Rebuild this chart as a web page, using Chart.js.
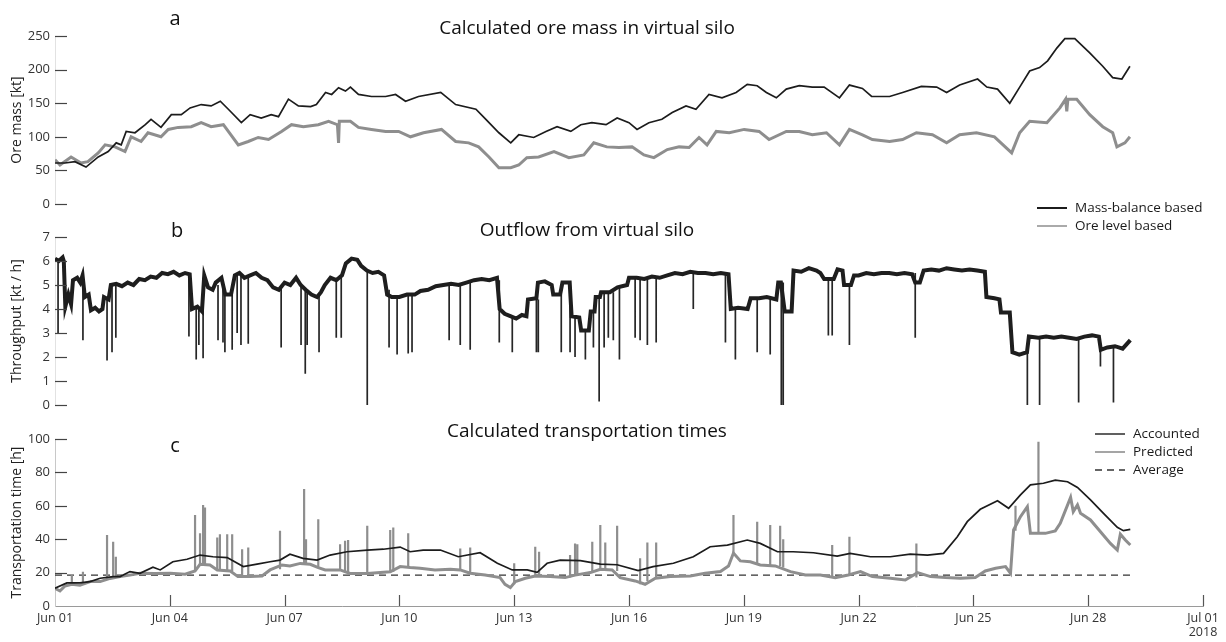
<!DOCTYPE html>
<html>
<head>
<meta charset="utf-8">
<title>Virtual silo</title>
<script src="https://cdn.jsdelivr.net/npm/chart.js@4/dist/chart.umd.min.js"></script>
<style>
    html, body { margin: 0; padding: 0; background: #fff; }
    #wrap { position: relative; width: 1226px; height: 642px; }
    #wrap canvas { position: absolute; left: 0; top: 0; }
</style>
</head>
<body>
<div id="wrap">
    <canvas id="silo-mass" width="1226" height="642"></canvas>
    <canvas id="silo-outflow" width="1226" height="642"></canvas>
    <canvas id="transport-time" width="1226" height="642"></canvas>
</div>
<script>
// time is in days since Jun 01 00:00
var dateTicks = ['Jun 01', 'Jun 04', 'Jun 07', 'Jun 10', 'Jun 13', 'Jun 16', 'Jun 19', 'Jun 22', 'Jun 25', 'Jun 28', 'Jul 01'];
var yearLabel = '2018';

// a: ore mass [kt]
var massDays = [0, 0.26, 0.52, 0.81, 1.13, 1.39, 1.6, 1.73, 1.86, 2.09, 2.36, 2.51, 2.77, 3.04, 3.3, 3.53, 3.82, 4.08, 4.32, 4.53,
    4.87, 5.1, 5.39, 5.65, 5.84, 6.1, 6.36, 6.68, 6.83, 7.07, 7.23, 7.41, 7.59, 7.72, 7.93, 8.27, 8.64, 8.9, 9.16, 9.5,
    10.08, 10.47, 11.0, 11.26, 11.6, 11.91, 12.12, 12.51, 12.83, 13.12, 13.48, 13.74, 14.03, 14.4, 14.69, 15.0, 15.21, 15.52, 15.86, 16.13,
    16.49, 16.75, 17.09, 17.43, 17.8, 18.09, 18.35, 18.59, 18.85, 19.11, 19.45, 19.79, 20.1, 20.5, 20.76, 21.1, 21.34, 21.81, 22.15, 22.64,
    23.04, 23.3, 23.64, 24.11, 24.35, 24.63, 24.95, 25.21, 25.47, 25.73, 25.94, 26.18, 26.39, 26.65, 27.04, 27.38, 27.64, 27.88, 28.09];
var massValues = [61, 61, 63, 55, 70, 78, 91, 88, 108, 106, 118, 126, 114, 133, 133, 143, 148, 146, 153, 141,
    121, 133, 128, 133, 130, 156, 146, 145, 148, 166, 163, 173, 168, 174, 163, 160, 160, 163, 153, 160,
    166, 148, 141, 126, 106, 91, 103, 99, 108, 115, 108, 118, 121, 118, 128, 121, 111, 121, 126, 136,
    146, 141, 163, 158, 166, 178, 176, 166, 158, 171, 176, 174, 174, 158, 177, 172, 160, 160, 166, 175,
    174, 166, 177, 186, 174, 171, 150, 174, 198, 203, 213, 232, 246, 246, 225, 205, 188, 186, 205];

var levelDays = [0, 0.13, 0.42, 0.68, 0.86, 1.13, 1.31, 1.57, 1.83, 1.99, 2.25, 2.43, 2.77, 2.96, 3.22, 3.56, 3.82, 4.08, 4.4, 4.79,
    5.05, 5.31, 5.58, 5.92, 6.18, 6.49, 6.88, 7.15, 7.38, 7.41, 7.43, 7.72, 7.93, 8.27, 8.64, 8.98, 9.29, 9.63, 10.1, 10.47,
    10.81, 11.07, 11.34, 11.6, 11.91, 12.12, 12.33, 12.64, 13.04, 13.43, 13.82, 14.08, 14.42, 14.74, 15.08, 15.39, 15.65, 16.0, 16.31, 16.57,
    16.83, 17.04, 17.28, 17.62, 18.01, 18.4, 18.66, 19.11, 19.45, 19.79, 20.16, 20.5, 20.76, 21.1, 21.36, 21.81, 22.15, 22.51, 22.93, 23.3,
    23.64, 24.08, 24.55, 25.0, 25.21, 25.47, 25.92, 26.26, 26.41, 26.44, 26.47, 26.7, 27.04, 27.38, 27.64, 27.75, 27.96, 28.09];
var levelValues = [66, 58, 70, 61, 63, 76, 88, 85, 78, 100, 93, 106, 100, 111, 114, 115, 121, 115, 118, 88,
    93, 99, 96, 108, 118, 115, 118, 123, 118, 91, 123, 123, 114, 111, 108, 108, 100, 106, 111, 93,
    91, 85, 70, 54, 54, 58, 69, 70, 78, 69, 73, 91, 85, 84, 85, 73, 69, 81, 85, 84,
    99, 88, 108, 106, 111, 108, 96, 108, 108, 103, 106, 88, 111, 103, 96, 93, 96, 106, 103, 91,
    103, 106, 100, 76, 106, 123, 121, 143, 156, 138, 156, 156, 133, 115, 106, 85, 91, 100];

// b: outflow [kt / h]
var flowDays = [0, 0.1, 0.2, 0.23, 0.27, 0.35, 0.42, 0.47, 0.58, 0.66, 0.72, 0.78, 0.88, 0.94, 1.05, 1.15, 1.24, 1.28, 1.4, 1.46,
    1.6, 1.75, 1.9, 2.05, 2.2, 2.35, 2.5, 2.65, 2.8, 2.95, 3.1, 3.25, 3.4, 3.52, 3.58, 3.72, 3.84, 3.9, 4.0, 4.12,
    4.2, 4.35, 4.45, 4.6, 4.7, 4.82, 4.95, 5.1, 5.25, 5.4, 5.55, 5.7, 5.85, 6.0, 6.15, 6.3, 6.42, 6.55, 6.7, 6.85,
    6.95, 7.05, 7.2, 7.35, 7.5, 7.6, 7.75, 7.9, 8.0, 8.15, 8.3, 8.45, 8.6, 8.68, 8.8, 9.0, 9.2, 9.4, 9.55, 9.75,
    9.95, 10.15, 10.35, 10.55, 10.75, 10.95, 11.15, 11.35, 11.55, 11.62, 11.75, 11.9, 12.05, 12.2, 12.32, 12.36, 12.58, 12.62, 12.8, 12.98,
    13.02, 13.2, 13.26, 13.45, 13.5, 13.7, 13.75, 13.95, 14.0, 14.1, 14.13, 14.24, 14.27, 14.5, 14.7, 14.95, 15.0, 15.2, 15.4, 15.6,
    15.8, 16.0, 16.2, 16.4, 16.6, 16.8, 17.0, 17.2, 17.4, 17.6, 17.66, 17.85, 18.1, 18.18, 18.4, 18.6, 18.85, 18.9, 18.97, 19.07,
    19.25, 19.3, 19.5, 19.7, 19.9, 20.0, 20.1, 20.35, 20.45, 20.58, 20.62, 20.8, 20.88, 21.0, 21.2, 21.4, 21.6, 21.8, 22.0, 22.2,
    22.4, 22.48, 22.6, 22.7, 22.9, 23.1, 23.3, 23.5, 23.7, 23.9, 24.1, 24.3, 24.34, 24.55, 24.68, 24.72, 24.95, 25.02, 25.2, 25.4,
    25.45, 25.7, 25.9, 26.1, 26.3, 26.5, 26.7, 26.9, 27.1, 27.28, 27.33, 27.5, 27.7, 27.9, 28.1];
var flowValues = [6.1, 6.0, 6.15, 6.0, 4.1, 4.6, 4.2, 5.2, 5.3, 5.1, 5.4, 4.5, 4.6, 3.95, 4.05, 3.9, 4.0, 4.5, 4.4, 5.0,
    5.05, 4.95, 5.1, 5.0, 5.25, 5.2, 5.35, 5.3, 5.5, 5.45, 5.55, 5.4, 5.5, 5.45, 4.0, 4.1, 3.9, 5.4, 4.9, 4.8,
    5.1, 5.3, 4.6, 4.6, 5.4, 5.5, 5.3, 5.4, 5.5, 5.3, 5.2, 4.9, 4.8, 5.1, 5.0, 5.3, 5.0, 4.8, 4.6, 4.5,
    4.7, 5.0, 5.3, 5.2, 5.4, 5.9, 6.1, 6.05, 5.8, 5.6, 5.5, 5.55, 5.4, 4.6, 4.5, 4.5, 4.6, 4.6, 4.75, 4.8,
    4.95, 5.0, 5.05, 5.0, 5.1, 5.2, 5.25, 5.2, 5.3, 4.0, 3.8, 3.7, 3.6, 3.75, 3.7, 4.4, 4.45, 5.1, 5.15, 5.0,
    4.6, 4.6, 5.1, 5.1, 3.7, 3.65, 3.1, 3.1, 3.9, 3.9, 4.5, 4.5, 4.7, 4.7, 4.9, 5.0, 5.3, 5.3, 5.25, 5.35,
    5.3, 5.4, 5.5, 5.45, 5.55, 5.5, 5.5, 5.45, 5.5, 5.45, 4.0, 4.05, 4.0, 4.45, 4.45, 4.5, 4.4, 5.1, 5.1, 3.9,
    3.9, 5.6, 5.55, 5.7, 5.6, 5.5, 5.25, 5.25, 5.65, 5.6, 5.0, 5.0, 5.4, 5.4, 5.5, 5.45, 5.5, 5.5, 5.45, 5.5,
    5.45, 5.1, 5.1, 5.6, 5.65, 5.6, 5.7, 5.65, 5.6, 5.65, 5.6, 5.55, 4.5, 4.45, 4.4, 3.85, 3.85, 2.2, 2.1, 2.2,
    2.85, 2.8, 2.85, 2.8, 2.85, 2.8, 2.75, 2.85, 2.9, 2.85, 2.3, 2.4, 2.45, 2.35, 2.7];

// short stops in the outflow: time, lowest value, value before the stop
var dipDays = [0.08, 0.73, 1.36, 1.49, 1.59, 3.5, 3.69, 3.76, 3.87, 4.26, 4.39, 4.44, 4.63, 4.76, 4.86, 5.05, 5.91, 6.43, 6.54, 6.59,
    6.9, 7.35, 7.48, 8.16, 8.73, 8.94, 9.23, 9.33, 10.3, 10.59, 10.85, 11.61, 11.95, 12.58, 12.63, 13.23, 13.46, 13.59, 13.86, 14.07,
    14.22, 14.35, 14.46, 14.59, 14.75, 15.16, 15.29, 15.48, 15.71, 16.68, 17.52, 17.78, 18.35, 18.69, 18.98, 19.03, 20.21, 20.31, 20.76, 22.48,
    25.41, 25.73, 26.75, 27.32, 27.66];
var dipLows = [3.0, 2.7, 1.85, 2.2, 2.8, 2.85, 1.9, 2.5, 1.95, 2.7, 2.6, 2.2, 2.3, 3.0, 2.5, 2.55, 2.4, 2.5, 1.3, 2.5,
    2.2, 2.8, 2.8, 0.0, 2.4, 2.1, 2.15, 2.2, 2.7, 2.5, 2.3, 2.6, 2.2, 2.2, 2.2, 2.2, 2.2, 2.0, 1.9, 2.4,
    0.15, 2.4, 2.8, 2.7, 1.9, 2.8, 2.7, 2.5, 2.6, 4.0, 2.6, 1.9, 2.2, 2.1, 0.0, 0.0, 2.9, 2.9, 2.5, 2.8,
    0.0, 0.0, 0.1, 1.6, 0.1];
var dipTops = [6.1, 5.2, 4.5, 5.0, 5.0, 5.5, 4.0, 4.0, 5.3, 5.0, 5.0, 4.6, 4.6, 5.4, 5.4, 5.3, 5.0, 5.0, 4.8, 4.8,
    4.6, 5.3, 5.3, 5.6, 4.8, 4.5, 4.6, 4.6, 5.0, 5.0, 5.1, 5.2, 3.7, 4.4, 4.4, 4.6, 5.1, 3.7, 3.1, 3.9,
    4.5, 4.7, 4.7, 4.7, 4.9, 5.3, 5.3, 5.3, 5.3, 5.5, 5.45, 4.0, 4.45, 4.45, 5.1, 5.1, 5.25, 5.25, 5.0, 5.5,
    2.2, 2.85, 2.8, 2.3, 2.4];

// c: transportation time [h]
var accDays = [0, 0.31, 0.65, 0.92, 1.18, 1.52, 1.7, 1.96, 2.22, 2.56, 2.75, 3.08, 3.45, 3.79, 4.13, 4.5, 4.92, 5.28, 5.62, 5.88,
    6.14, 6.48, 6.85, 7.19, 7.63, 8.16, 8.58, 9.02, 9.28, 9.62, 10.07, 10.54, 11.11, 11.56, 11.95, 12.34, 12.6, 12.86, 13.2, 13.73,
    14.25, 14.69, 15.24, 15.63, 16.16, 16.68, 17.12, 17.57, 18.09, 18.43, 18.88, 19.29, 19.82, 20.44, 20.78, 21.31, 21.83, 22.35, 22.8, 23.22,
    23.58, 23.84, 24.18, 24.63, 24.92, 25.23, 25.49, 25.83, 26.14, 26.46, 26.72, 27.06, 27.4, 27.76, 27.92, 28.1];
var accValues = [10.6, 13.8, 13.8, 14.6, 16.6, 17.6, 17.6, 20.6, 19.6, 23.2, 21.6, 26.5, 28, 30.5, 29.5, 29, 23.6, 25.1, 26.5, 27.5,
    31, 28.5, 27.5, 30.5, 32.5, 33.5, 34, 35.3, 32.5, 33.5, 33.5, 29.5, 31.9, 25.6, 21.6, 21.6, 20.2, 25.6, 27.5, 27.2,
    25.1, 24.7, 21.2, 23.6, 25.6, 29.5, 35.5, 36.5, 39.5, 37.5, 32.5, 32.5, 31.9, 29.9, 31.5, 29.5, 29.5, 31.1, 30.5, 31.5,
    41.5, 50.5, 57.9, 63, 58.5, 66.5, 72.5, 73.5, 75.4, 74.4, 71, 63.5, 55.5, 47.1, 45.1, 45.9];

var predDays = [0, 0.13, 0.26, 0.44, 0.65, 0.92, 1.18, 1.44, 1.7, 1.96, 2.22, 2.61, 3.01, 3.4, 3.66, 3.79, 4.05, 4.24, 4.58, 4.78,
    5.1, 5.41, 5.62, 5.93, 6.14, 6.41, 6.67, 6.88, 7.06, 7.45, 7.71, 8.16, 8.5, 8.76, 9.02, 9.28, 9.54, 9.93, 10.33, 10.59,
    10.85, 11.24, 11.63, 11.76, 11.9, 12.03, 12.29, 12.55, 12.94, 13.33, 13.59, 13.99, 14.25, 14.56, 14.77, 15.16, 15.42, 15.69, 16.08, 16.6,
    16.99, 17.39, 17.6, 17.73, 17.91, 18.17, 18.43, 18.82, 19.22, 19.61, 20.0, 20.39, 20.73, 21.05, 21.36, 21.83, 22.22, 22.54, 22.88, 23.27,
    23.66, 24.05, 24.31, 24.58, 24.84, 24.97, 25.05, 25.23, 25.41, 25.49, 25.88, 26.14, 26.27, 26.54, 26.61, 26.72, 26.8, 27.06, 27.58, 27.76,
    27.84, 27.97, 28.1];
var predValues = [10.6, 9, 12, 13, 12.5, 14.6, 14.6, 16.5, 17.6, 18.5, 19.6, 19.5, 19.6, 19, 21, 25, 24.6, 21.6, 21, 17.6,
    17.6, 18, 21.6, 24.6, 24, 25.5, 25, 23, 21.6, 21.6, 19.5, 19.5, 20, 20.5, 23.6, 23, 22.6, 21.6, 22, 21.6,
    19.6, 18.6, 17, 13, 11, 14.6, 16.6, 18, 17.6, 17, 18.5, 20, 22, 21.6, 17, 15, 13, 16.6, 17.6, 18,
    19.6, 20.6, 24, 31.7, 27, 26.5, 24.6, 24, 20.6, 18.6, 18.6, 17, 18.6, 20.6, 17.6, 16.6, 15.6, 20, 17.6, 17,
    16.6, 17, 21, 22.6, 23.6, 19.6, 45.5, 53.5, 59.5, 43.5, 43.5, 45, 49.5, 65, 56.5, 60.5, 55.5, 51.5, 37.5, 33.5,
    43, 39.5, 36.5];

// brief peaks of the predicted time: time, peak, value under the peak
var spikeDays = [0.44, 0.73, 1.36, 1.52, 1.59, 3.66, 3.79, 3.87, 3.92, 4.24, 4.31, 4.5, 4.63, 4.89, 5.05, 5.88, 6.51, 6.56, 6.88, 7.45,
    7.58, 7.66, 8.16, 8.76, 8.84, 9.23, 10.59, 10.85, 12.0, 12.55, 12.65, 13.46, 13.59, 13.65, 14.04, 14.25, 14.38, 14.69, 15.29, 15.48,
    15.71, 17.73, 18.35, 18.69, 18.95, 19.03, 20.31, 20.76, 22.51, 25.1, 25.7];
var spikePeaks = [18.6, 20.5, 42.5, 38.5, 29.5, 54.5, 43.5, 60.5, 59, 41, 43, 43, 43, 34, 35, 45, 70, 40, 52, 37,
    39, 39.5, 48, 45.5, 47, 43.5, 34.5, 35, 25.6, 35.5, 32.5, 30.5, 37.5, 37, 38.5, 48.5, 38, 48, 28.6, 38,
    38, 54.5, 50.5, 48.5, 48, 40, 36.5, 41.5, 37.5, 60, 98.4];
var spikeBases = [13, 13, 16, 17, 17, 21, 25, 25, 25, 22, 22, 21, 21, 18, 18, 22, 25, 25, 23, 21,
    20, 20, 19.5, 20.5, 20.5, 23, 21.6, 19.6, 13, 18, 18, 17, 18, 18, 20, 22, 22, 21, 13, 15,
    16.6, 31, 25, 24, 24, 23, 17, 18.6, 17, 45, 43.5];

var averageTime = 18.5;

Chart.defaults.font.family = "'Open Sans', sans-serif";

function pairs(days, values) {
    return days.map(function (d, i) {
        return { x: d, y: values[i] };
    });
}

// vertical strokes, broken apart with null points
function strokes(days, from, to) {
    var pts = [];
    days.forEach(function (d, i) {
        pts.push({ x: d, y: from[i] }, { x: d, y: to[i] }, { x: d, y: null });
    });
    return pts;
}

var panelDecor = {
    id: 'panelDecor',
    afterDraw: function (chart, args, opts) {
        var ctx = chart.ctx;
        var area = chart.chartArea;
        var y = chart.scales.y;
        var x = chart.scales.x;

        ctx.save();

        // little dashes at the value ticks
        ctx.strokeStyle = '#444';
        ctx.lineWidth = 1.2;
        y.ticks.forEach(function (t) {
            if (opts.timeMarks && t.value === 0) {
                return;
            }
            var py = Math.round(y.getPixelForValue(t.value)) + 0.5;
            ctx.beginPath();
            ctx.moveTo(area.left, py);
            ctx.lineTo(area.left + 12, py);
            ctx.stroke();
        });

        // upward marks on the date axis
        if (opts.timeMarks) {
            ctx.strokeStyle = '#555';
            x.ticks.forEach(function (t) {
                if (t.value === 0) {
                    return;
                }
                var px = Math.round(x.getPixelForValue(t.value)) + 0.5;
                ctx.beginPath();
                ctx.moveTo(px, area.bottom);
                ctx.lineTo(px, area.bottom - 11);
                ctx.stroke();
            });
        }

        ctx.fillStyle = '#111';
        ctx.textAlign = 'center';
        ctx.textBaseline = 'middle';
        ctx.font = "20px 'Open Sans', sans-serif";
        ctx.fillText(opts.letter, opts.letterX, opts.letterY);
        ctx.font = "19px 'Open Sans', sans-serif";
        ctx.fillText(opts.title, opts.titleX, opts.titleY);

        if (opts.legend) {
            var lg = opts.legend;
            var row = 0;
            ctx.textAlign = 'left';
            ctx.font = "13.5px 'Open Sans', sans-serif";
            chart.data.datasets.forEach(function (ds) {
                if (!ds.label) {
                    return;
                }
                var ly = lg.y + row * lg.spacing;
                ctx.strokeStyle = ds.borderColor;
                ctx.lineWidth = lg.lineWidths[row];
                ctx.setLineDash(ds.borderDash || []);
                ctx.beginPath();
                ctx.moveTo(lg.x, ly);
                ctx.lineTo(lg.x + lg.length, ly);
                ctx.stroke();
                ctx.setLineDash([]);
                ctx.fillStyle = '#1a1a1a';
                ctx.fillText(ds.label, lg.x + lg.length + 8, ly);
                row++;
            });
        }

        ctx.restore();
    }
};

function valueAxis(max, step, title) {
    return {
        min: 0,
        max: max,
        border: { display: true, color: '#e2e2e2' },
        grid: { drawOnChartArea: false, drawTicks: false },
        ticks: { stepSize: step, padding: 5, color: '#333', font: { size: 13 } },
        title: { display: true, text: title, color: '#222', font: { size: 14 }, padding: { top: 8.5, bottom: 0 } },
        afterFit: function (scale) {
            scale.width = 55;
        }
    };
}

function hiddenTimeAxis() {
    return { type: 'linear', min: 0, max: 30, display: false };
}

function baseOptions(padding, scales, decor) {
    return {
        responsive: false,
        animation: false,
        events: [],
        layout: { padding: padding },
        elements: { point: { radius: 0 }, line: { tension: 0 } },
        scales: scales,
        plugins: {
            legend: { display: false },
            tooltip: { enabled: false },
            panelDecor: decor
        }
    };
}

new Chart(document.getElementById('silo-mass'), {
    type: 'line',
    data: {
        datasets: [{
            label: 'Mass-balance based',
            data: pairs(massDays, massValues),
            borderColor: '#1c1c1c',
            borderWidth: 1.7
        }, {
            label: 'Ore level based',
            data: pairs(levelDays, levelValues),
            borderColor: '#8e8e8e',
            borderWidth: 3
        }]
    },
    options: baseOptions(
        { left: 0, right: 23, top: 36, bottom: 438 },
        { x: hiddenTimeAxis(), y: valueAxis(250, 50, 'Ore mass [kt]') },
        {
            letter: 'a', letterX: 175, letterY: 19,
            title: 'Calculated ore mass in virtual silo', titleX: 587, titleY: 29,
            legend: { x: 1037, y: 208, length: 30, spacing: 18, lineWidths: [2, 1.5] }
        }
    ),
    plugins: [panelDecor]
});

new Chart(document.getElementById('silo-outflow'), {
    type: 'line',
    data: {
        datasets: [{
            data: pairs(flowDays, flowValues),
            borderColor: '#1e1e1e',
            borderWidth: 4
        }, {
            data: strokes(dipDays, dipTops, dipLows),
            borderColor: '#262626',
            borderWidth: 1.7,
            spanGaps: false
        }]
    },
    options: baseOptions(
        { left: 0, right: 23, top: 237, bottom: 237 },
        { x: hiddenTimeAxis(), y: valueAxis(7, 1, 'Throughput [kt / h]') },
        {
            letter: 'b', letterX: 177, letterY: 231,
            title: 'Outflow from virtual silo', titleX: 587, titleY: 231
        }
    ),
    plugins: [panelDecor]
});

var timeAxis = {
    type: 'linear',
    min: 0,
    max: 30,
    border: { display: true, color: '#9a9a9a' },
    grid: { drawOnChartArea: false, drawTicks: false },
    ticks: {
        stepSize: 3,
        padding: 6,
        autoSkip: false,
        maxRotation: 0,
        color: '#333',
        font: { size: 12.5, lineHeight: 1.1 },
        callback: function (value) {
            var i = Math.round(value / 3);
            return i === dateTicks.length - 1 ? [dateTicks[i], yearLabel] : dateTicks[i];
        }
    },
    afterFit: function (scale) {
        scale.height = 36;
    }
};

var timeY = valueAxis(100, 20, 'Transportation time [h]');
timeY.border.color = '#c8c8c8';

new Chart(document.getElementById('transport-time'), {
    type: 'line',
    data: {
        datasets: [{
            label: 'Accounted',
            data: pairs(accDays, accValues),
            borderColor: '#1c1c1c',
            borderWidth: 1.7
        }, {
            label: 'Predicted',
            data: pairs(predDays, predValues),
            borderColor: '#8e8e8e',
            borderWidth: 3
        }, {
            data: strokes(spikeDays, spikeBases, spikePeaks),
            borderColor: '#8e8e8e',
            borderWidth: 2.2,
            spanGaps: false
        }, {
            label: 'Average',
            data: [{ x: 0, y: averageTime }, { x: accDays[accDays.length - 1], y: averageTime }],
            borderColor: '#333',
            borderWidth: 1.2,
            borderDash: [7, 5]
        }]
    },
    options: baseOptions(
        { left: 0, right: 23, top: 439, bottom: 0 },
        { x: timeAxis, y: timeY },
        {
            letter: 'c', letterX: 175, letterY: 446,
            title: 'Calculated transportation times', titleX: 587, titleY: 432,
            timeMarks: true,
            legend: { x: 1095, y: 434, length: 30, spacing: 18, lineWidths: [1.4, 1.6, 1.4] }
        }
    ),
    plugins: [panelDecor]
});
</script>
</body>
</html>
